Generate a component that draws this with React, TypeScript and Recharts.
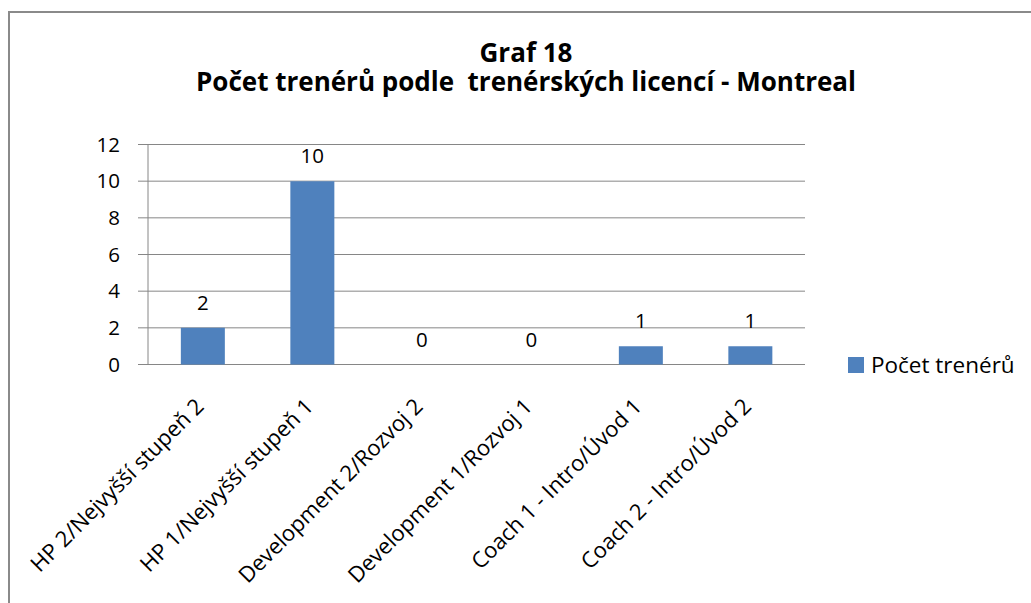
import React from 'react';
import { ComposedChart, Bar, Line, XAxis, YAxis, CartesianGrid, LabelList, Legend } from 'recharts';

const categories = [
  'HP 2/Nejvyšší stupeň 2',
  'HP 1/Nejvyšší stupeň 1',
  'Development 2/Rozvoj 2',
  'Development 1/Rozvoj 1',
  'Coach 1 - Intro/Úvod 1',
  'Coach 2 - Intro/Úvod 2',
];
const counts = [2, 10, 0, 0, 1, 1];
const yTicks = [0, 2, 4, 6, 8, 10, 12];
const seriesName = 'Počet trenérů';
const titleLines = ['Graf 18', 'Počet trenérů podle  trenérských licencí - Montreal'];

const data = categories.map((name, i) => ({ name, value: counts[i] }));
const boundaryTicks = categories.map((_, i) => i).concat([categories.length]);

const FONT = '"Open Sans", Lato, sans-serif';
const GRID = '#868686';
const BLUE = '#4F81BD';

const CatTick = (props: any) => {
  const { x, y, payload } = props;
  const ax = x - 4;
  const ay = y + 37;
  return (
    <text
      x={ax}
      y={ay}
      transform={`rotate(-45 ${ax} ${ay})`}
      textAnchor="end"
      dominantBaseline="central"
      fontFamily={FONT}
      fontSize={22}
      fill="#000"
    >
      {payload.value}
    </text>
  );
};

const LegendContent = () => (
  <div style={{ display: 'flex', alignItems: 'center', fontFamily: FONT, fontSize: 22.5, color: '#000', whiteSpace: 'nowrap' }}>
    <span style={{ display: 'inline-block', width: 16, height: 16, background: BLUE, marginRight: 7 }} />
    <span>{seriesName}</span>
  </div>
);

export default function App() {
  return (
    <div style={{ position: 'relative', width: 1031, height: 603, background: '#fff', overflow: 'hidden' }}>
      <style>{`html,body{margin:0;padding:0;overflow:hidden;background:#fff}`}</style>
      <div
        style={{
          position: 'absolute',
          left: 8,
          top: 11,
          width: 1100,
          height: 700,
          borderTop: '2px solid #8a8a8a',
          borderLeft: '2px solid #8a8a8a',
          boxSizing: 'border-box',
        }}
      />
      <div
        style={{
          position: 'absolute',
          left: 126,
          top: 38.4,
          width: 800,
          textAlign: 'center',
          fontFamily: FONT,
          fontWeight: 'bold',
          fontSize: 26,
          lineHeight: '29px',
          color: '#000',
          whiteSpace: 'pre',
        }}
      >
        {titleLines[0]}
        <br />
        {titleLines[1]}
      </div>
      <div style={{ position: 'absolute', left: 0, top: 0 }}>
        <ComposedChart
          width={1031}
          height={603}
          data={data}
          margin={{ top: 144.5, right: 226, bottom: 0, left: 0 }}
          barCategoryGap="30%"
        >
          <CartesianGrid xAxisId="cat" yAxisId="y" vertical={false} stroke={GRID} strokeWidth={1} />
          <XAxis
            xAxisId="a"
            type="number"
            domain={[0, categories.length]}
            allowDataOverflow
            ticks={boundaryTicks}
            interval={0}
            tick={false}
            tickSize={10}
            height={0}
            axisLine={{ stroke: GRID }}
            tickLine={{ stroke: GRID }}
          />
          <XAxis
            xAxisId="cat"
            dataKey="name"
            type="category"
            interval={0}
            height={238.5}
            axisLine={false}
            tickLine={false}
            tickSize={0}
            tickMargin={0}
            tick={<CatTick />}
          />
          <YAxis
            yAxisId="y"
            width={148}
            domain={[0, 12]}
            ticks={yTicks}
            interval={0}
            tickSize={10}
            tickMargin={18}
            axisLine={{ stroke: GRID }}
            tickLine={{ stroke: GRID }}
            tick={{ fontFamily: FONT, fontSize: 20.5, fill: '#000' }}
          />
          <Legend
            layout="vertical"
            align="center"
            verticalAlign="middle"
            content={<LegendContent />}
            wrapperStyle={{ left: 848, top: 349, width: 180 }}
          />
          <Bar xAxisId="cat" yAxisId="y" dataKey="value" name={seriesName} fill={BLUE} isAnimationActive={false} />
          <Line
            xAxisId="cat"
            yAxisId="y"
            dataKey="value"
            stroke="none"
            dot={false}
            activeDot={false}
            legendType="none"
            isAnimationActive={false}
          >
            <LabelList
              dataKey="value"
              position="top"
              offset={18}
              fontFamily={FONT}
              fontSize={20.5}
              fill="#000"
            />
          </Line>
        </ComposedChart>
      </div>
    </div>
  );
}
